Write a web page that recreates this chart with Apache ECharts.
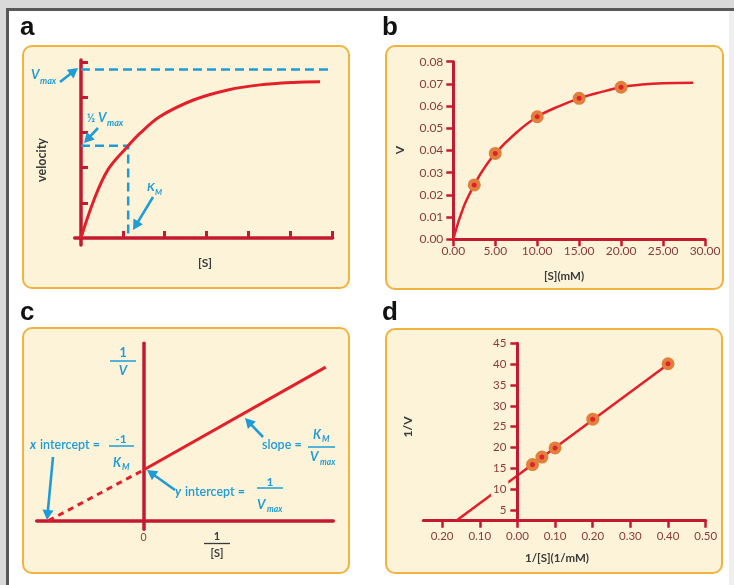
<!DOCTYPE html>
<html><head><meta charset="utf-8">
<script src="https://cdn.jsdelivr.net/npm/echarts@6/dist/echarts.min.js"></script>
<style>html,body{margin:0;padding:0;background:#fff;}#c{width:734px;height:585px;}</style>
</head><body><div id="c"></div>
<script>
// ---------- data ----------
// panel a (schematic Michaelis-Menten)
const aCurveS = [0, 0.31, 0.65, 1.13, 1.41, 1.89, 2.69, 3.49, 4.28, 5.08, 5.72];
const aCurveV = [0, 1.08, 1.95, 2.62, 2.97, 3.45, 3.92, 4.20, 4.35, 4.42, 4.44];
const aVmax = 4.79;
const aHalfV = 2.62;
const aKm = 1.13;
const aXEnd = 6.02;
const aTicksX = [1, 2, 3, 4, 5, 6];
const aTicksY = [1, 2, 3, 4, 5];
// panel b
const bS = [2.5, 5, 10, 15, 20];
const bV = [0.0245, 0.0387, 0.0552, 0.0635, 0.0685];
const bCurveS = [0, 0.5, 1, 1.5, 2.5, 3.5, 5, 7.5, 10, 12.5, 15, 17.5, 20, 22.5, 25, 28.6];
const bCurveV = [0, 0.0066, 0.0122, 0.017, 0.0245, 0.031, 0.0387, 0.048, 0.0552, 0.0598, 0.0635, 0.0662, 0.0685, 0.0697, 0.0703, 0.0705];
// panel c (schematic Lineweaver-Burk)
const cSolidX = [0, 1.92];
const cSolidY = [1, 3.03];
const cDashX = [-1, 0];
const cDashY = [0, 1];
const cTickLabels = [0];
// panel d
const dInvS = [0.04, 0.065, 0.10, 0.20, 0.40];
const dInvV = [15.9, 17.7, 19.9, 26.8, 40.1];
const dFitX = [-0.16, 0.40];
const dFitY = [2.6, 40.0];
const dTicksX = [-0.2, -0.1, 0, 0.1, 0.2, 0.3, 0.4, 0.5];
const dTicksY = [5, 10, 15, 20, 25, 30, 35, 40, 45];

const zip = (xs, ys) => xs.map((x, i) => [x, ys[i]]);

// ---------- styles ----------
const AX = '#c41a30', CR = '#e3202a', BL = '#1e9cd8', LB = '#8c3b3b', DK = '#3a3a3a';
const FILL = '#fcf3d9', BORDER = '#f1b33d', HALO = '#e0803c';
const FF = 'Lato, "Open Sans", sans-serif';

const chart = echarts.init(document.getElementById('c'), null, {renderer: 'canvas'});

function txt(x, y, s, font, opt) {
  return Object.assign({type: 'text', x: x, y: y, z: 100,
    style: Object.assign({text: s, fill: BL, font: font + ' ' + FF, align: 'center', verticalAlign: 'middle'}, (opt && opt.style) || {})},
    opt && opt.rotation ? {rotation: opt.rotation} : {});
}
function ln(x1, y1, x2, y2, color, w) {
  return {type: 'line', z: 100, shape: {x1: x1, y1: y1, x2: x2, y2: y2}, style: {stroke: color, lineWidth: w}};
}
function arrow(x1, y1, x2, y2) {
  const dx = x2 - x1, dy = y2 - y1, L = Math.hypot(dx, dy), ux = dx / L, uy = dy / L;
  const hl = 10, hw = 5.5;
  const bx = x2 - ux * hl, by = y2 - uy * hl;
  return [
    {type: 'line', z: 100, shape: {x1: x1, y1: y1, x2: bx + ux * 1, y2: by + uy * 1}, style: {stroke: BL, lineWidth: 2.6}},
    {type: 'polygon', z: 100, shape: {points: [[x2, y2], [bx - uy * hw, by + ux * hw], [bx + uy * hw, by - ux * hw]]}, style: {fill: BL}}
  ];
}
function panel(x, y, w, h) {
  return {type: 'rect', z: -10, shape: {x: x, y: y, width: w, height: h, r: 9}, style: {fill: FILL, stroke: BORDER, lineWidth: 2}};
}
const LETTER = 'bold 26px "Liberation Sans", Arial, sans-serif';

const graphic = [
  // frame
  {type: 'rect', z: -20, shape: {x: 0, y: 0, width: 734, height: 8}, style: {fill: '#d9d9d9'}},
  {type: 'rect', z: -20, shape: {x: 0, y: 0, width: 6, height: 585}, style: {fill: '#d9d9d9'}},
  {type: 'rect', z: -19, shape: {x: 6, y: 8, width: 728, height: 3}, style: {fill: '#585858'}},
  {type: 'rect', z: -19, shape: {x: 6, y: 8, width: 3, height: 577}, style: {fill: '#585858'}},
  {type: 'rect', z: -20, shape: {x: 729, y: 11, width: 5, height: 574}, style: {fill: '#efefef'}},
  // panels
  panel(23, 46, 326, 242), panel(386, 46, 337, 243), panel(23, 328, 326, 245), panel(386, 329, 336, 244),
  // panel letters
  txt(20, 28, 'a', '', {style: {fill: '#111', align: 'left', font: LETTER}}),
  txt(382, 28, 'b', '', {style: {fill: '#111', align: 'left', font: LETTER}}),
  txt(20, 313, 'c', '', {style: {fill: '#111', align: 'left', font: LETTER}}),
  txt(382, 313, 'd', '', {style: {fill: '#111', align: 'left', font: LETTER}}),
  // axis names
  txt(42, 160, 'velocity', 'bold 12.5px', {style: {fill: DK}, rotation: Math.PI / 2}),
  txt(205, 263, '[S]', 'bold 12px', {style: {fill: DK}}),
  txt(400, 150, 'V', 'bold 12px', {style: {fill: DK}, rotation: Math.PI / 2}),
  txt(564, 276, '[S](mM)', 'bold 11.5px', {style: {fill: DK}}),
  txt(217, 536, '1', 'bold 11px', {style: {fill: DK}}),
  ln(204, 543.5, 230, 543.5, DK, 1.3),
  txt(217, 553, '[S]', 'bold 11px', {style: {fill: DK}}),
  txt(408, 427, '1/V', 'bold 12px', {style: {fill: DK}, rotation: Math.PI / 2}),
  txt(557, 558, '1/[S](1/mM)', 'bold 11.5px', {style: {fill: DK}}),
  // panel a annotations
  txt(31, 75, 'V', 'italic bold 13px', {style: {align: 'left'}}),
  txt(40, 81, 'max', 'italic bold 9px', {style: {align: 'left'}}),
  txt(87, 118, '\u00bd', 'bold 11px', {style: {align: 'left'}}),
  txt(98, 118, 'V', 'italic bold 13px', {style: {align: 'left'}}),
  txt(107, 123, 'max', 'italic bold 9px', {style: {align: 'left'}}),
  txt(147, 187, 'K', 'italic bold 12px', {style: {align: 'left'}}),
  txt(155, 192, 'M', 'italic bold 8px', {style: {align: 'left'}}),
  ...arrow(60, 82, 78, 68),
  ...arrow(98, 128, 84, 143),
  ...arrow(153, 197, 133, 230),
  // panel c annotations
  txt(123, 353, '1', 'bold 12.5px'),
  ln(110, 361, 136, 361, BL, 1.5),
  txt(123, 371, 'V', 'italic bold 13px'),
  txt(30, 445, 'x', 'italic bold 12.5px', {style: {align: 'left'}}),
  txt(40, 445, 'intercept =', '600 12.5px', {style: {align: 'left'}}),
  txt(121, 439, '-1', 'bold 12px'),
  ln(109, 446, 134, 446, BL, 1.5),
  txt(113, 463, 'K', 'italic bold 12.5px', {style: {align: 'left'}}),
  txt(122, 467, 'M', 'italic bold 8.5px', {style: {align: 'left'}}),
  ...arrow(53, 457, 47, 520),
  txt(175, 492, 'y', 'italic bold 12.5px', {style: {align: 'left'}}),
  txt(185, 492, 'intercept =', '600 12.5px', {style: {align: 'left'}}),
  txt(270, 482, '1', 'bold 12px'),
  ln(257, 488, 283, 488, BL, 1.5),
  txt(257, 505, 'V', 'italic bold 13px', {style: {align: 'left'}}),
  txt(267, 509, 'max', 'italic bold 8.5px', {style: {align: 'left'}}),
  ...arrow(175, 490, 147, 470),
  txt(262, 445, 'slope =', '600 12.5px', {style: {align: 'left'}}),
  txt(313, 435, 'K', 'italic bold 12.5px', {style: {align: 'left'}}),
  txt(322, 439, 'M', 'italic bold 8.5px', {style: {align: 'left'}}),
  ln(308, 447, 335, 447, BL, 1.5),
  txt(310, 457, 'V', 'italic bold 13px', {style: {align: 'left'}}),
  txt(320, 462, 'max', 'italic bold 8.5px', {style: {align: 'left'}}),
  ...arrow(263, 437, 245, 418)
];

const grid = [
  {left: 74.7, top: 59.9, width: 257.9, height: 185.1},
  {left: 453.3, top: 61.7, width: 251.7, height: 177.6},
  {left: 36.7, top: 343.3, width: 296.6, height: 186},
  {left: 423.3, top: 343.3, width: 282.4, height: 177.4}
].map(g => Object.assign(g, {containLabel: false, outerBoundsMode: 'none', show: false}));

const labelStyle = (size) => ({color: LB, fontFamily: FF, fontSize: size});

const xAxis = [
  {gridIndex: 0, type: 'value', min: -0.15, max: aXEnd,
    axisLine: {onZero: true, lineStyle: {color: AX, width: 3.5}},
    axisTick: {show: true, inside: true, length: 7, customValues: aTicksX, lineStyle: {color: AX, width: 3}},
    axisLabel: {show: false}, splitLine: {show: false}},
  {gridIndex: 1, type: 'value', min: 0, max: 30, interval: 5,
    axisLine: {onZero: false, lineStyle: {color: AX, width: 3}},
    axisTick: {show: true, length: 7, lineStyle: {color: AX, width: 2.5}},
    axisLabel: Object.assign(labelStyle(12), {margin: 6, formatter: v => v.toFixed(2)}), splitLine: {show: false}},
  {gridIndex: 2, type: 'value', min: -1.125, max: 2,
    axisLine: {onZero: true, lineStyle: {color: AX, width: 3.5}},
    axisTick: {show: false},
    axisLabel: Object.assign(labelStyle(10.5), {margin: 3, customValues: cTickLabels, formatter: v => String(v)}), splitLine: {show: false}},
  {gridIndex: 3, type: 'value', min: -0.25, max: 0.5,
    axisLine: {onZero: false, lineStyle: {color: AX, width: 3}},
    axisTick: {show: true, length: 7, customValues: dTicksX, lineStyle: {color: AX, width: 2.5}},
    axisLabel: Object.assign(labelStyle(11.5), {margin: 10, customValues: dTicksX, formatter: v => Math.abs(v).toFixed(2)}), splitLine: {show: false}}
];
const yAxis = [
  {gridIndex: 0, type: 'value', min: -0.2, max: 5.06,
    axisLine: {onZero: true, lineStyle: {color: AX, width: 3.5}},
    axisTick: {show: true, inside: true, length: 7, customValues: aTicksY, lineStyle: {color: AX, width: 3}},
    axisLabel: {show: false}, splitLine: {show: false}},
  {gridIndex: 1, type: 'value', min: 0, max: 0.08, interval: 0.01,
    axisLine: {onZero: false, lineStyle: {color: AX, width: 3}},
    axisTick: {show: true, length: 7, lineStyle: {color: AX, width: 2.5}},
    axisLabel: Object.assign(labelStyle(12), {margin: 10, formatter: v => v.toFixed(2)}), splitLine: {show: false}},
  {gridIndex: 2, type: 'value', min: -0.17, max: 3.5,
    axisLine: {onZero: true, lineStyle: {color: AX, width: 3.5}},
    axisTick: {show: false}, axisLabel: {show: false}, splitLine: {show: false}},
  {gridIndex: 3, type: 'value', min: 2.45, max: 45, z: 5, position: 'left', offset: -94.1,
    axisLine: {onZero: false, lineStyle: {color: AX, width: 3}},
    axisTick: {show: true, length: 7, customValues: dTicksY, lineStyle: {color: AX, width: 2.5}},
    axisLabel: Object.assign(labelStyle(11.5), {margin: 9, customValues: dTicksY, backgroundColor: FILL, padding: [2, 2]}), splitLine: {show: false}}
];

const series = [
  // a
  {type: 'line', xAxisIndex: 0, yAxisIndex: 0, data: [[0, aVmax], [aXEnd, aVmax]], symbol: 'none', silent: true,
    lineStyle: {color: BL, width: 2.5, type: [9, 5]}, z: 3},
  {type: 'line', xAxisIndex: 0, yAxisIndex: 0, data: [[0, aHalfV], [aKm, aHalfV], [aKm, 0]], symbol: 'none', silent: true,
    lineStyle: {color: BL, width: 2.5, type: [9, 5]}, z: 3},
  {type: 'line', xAxisIndex: 0, yAxisIndex: 0, data: zip(aCurveS, aCurveV), smooth: 0.35, symbol: 'none',
    lineStyle: {color: CR, width: 3}, z: 4},
  // b
  {type: 'line', xAxisIndex: 1, yAxisIndex: 1, data: zip(bCurveS, bCurveV), smooth: 0.35, symbol: 'none',
    lineStyle: {color: CR, width: 2.5}, z: 3},
  {type: 'scatter', xAxisIndex: 1, yAxisIndex: 1, data: zip(bS, bV), symbol: 'circle', symbolSize: 9,
    itemStyle: {color: CR, borderColor: HALO, borderWidth: 4, opacity: 1}, z: 4},
  // c
  {type: 'line', xAxisIndex: 2, yAxisIndex: 2, data: zip(cSolidX, cSolidY), symbol: 'none',
    lineStyle: {color: CR, width: 3}, z: 3},
  {type: 'line', xAxisIndex: 2, yAxisIndex: 2, data: zip(cDashX, cDashY), symbol: 'none',
    lineStyle: {color: CR, width: 3, type: [6, 5]}, z: 3},
  // d
  {type: 'line', xAxisIndex: 3, yAxisIndex: 3, data: zip(dFitX, dFitY), symbol: 'none',
    lineStyle: {color: CR, width: 2.5}, z: 3},
  {type: 'scatter', xAxisIndex: 3, yAxisIndex: 3, data: zip(dInvS, dInvV), symbol: 'circle', symbolSize: 9,
    itemStyle: {color: CR, borderColor: HALO, borderWidth: 4, opacity: 1}, z: 6}
];

chart.setOption({
  animation: false,
  backgroundColor: '#ffffff',
  textStyle: {fontFamily: FF},
  grid: grid, xAxis: xAxis, yAxis: yAxis, series: series,
  graphic: {elements: graphic}
});
</script>
</body></html>
